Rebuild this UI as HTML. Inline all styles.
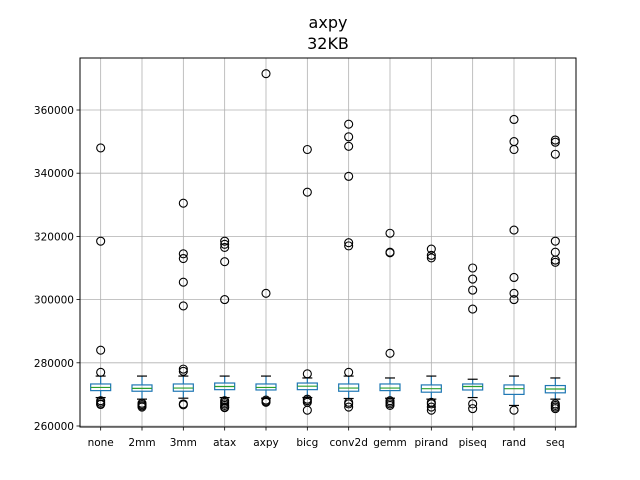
<!DOCTYPE html>
<html><head><meta charset="utf-8"><style>
body{margin:0;background:#fff;}
svg{display:block;font-family:"DejaVu Sans","Liberation Sans",sans-serif;}
</style></head><body>
<svg id="chart" width="640" height="480" viewBox="0 0 640 480">
<text x="328" y="28" text-anchor="middle" font-size="16">axpy</text>
<text x="328" y="49" text-anchor="middle" font-size="16">32KB</text>
<g id="grid"></g><g id="marks"></g><g id="axes"></g>
</svg>
<script>
const categories=["none","2mm","3mm","atax","axpy","bicg","conv2d","gemm","pirand","piseq","rand","seq"];
const q1=[271200,271000,271000,271500,271400,271500,271000,271200,270700,271400,270000,270500];
const medians=[272200,271900,272000,272500,272200,272600,272000,272000,271800,272500,271800,271700];
const q3=[273300,273000,273300,273600,273300,273600,273300,273300,273000,273300,273000,272800];
const whiskerLow=[269000,268500,268800,269000,268800,269000,268700,268800,268500,269000,266500,268500];
const whiskerHigh=[275800,275800,275800,275800,275800,275200,275800,275200,275800,274800,275800,275200];
const fliers=[
[348000,318500,284000,277000,268000,267500,267000,266800],
[267200,266800,266400,266000],
[330500,314500,313000,305500,298000,278000,277300,267000,266700],
[318500,317500,316500,312000,300000,268000,267500,267000,266500,266000,265800],
[371500,302000,268200,267800,267500],
[347500,334000,276500,268500,268000,267500,265000],
[355500,351500,348500,339000,318000,317000,277000,267500,267000,266000],
[321000,315000,314800,283000,268000,267500,267000,266500],
[316000,314000,313200,267500,267000,266000,265000],
[310000,306500,303000,297000,267000,265500],
[357000,350000,347500,322000,307000,302000,300000,265000],
[350500,349800,346000,318500,315000,312500,311800,267000,266500,266000,265500]];
const yTicks=[260000,280000,300000,320000,340000,360000];

const L=80,R=576,T=58,B=427;
const y=v=>426-(v-260000)*0.00316;
const x=i=>L+(i+0.5)*(R-L)/categories.length;
const NS="http://www.w3.org/2000/svg";
function mk(tag,attrs,parent){const e=document.createElementNS(NS,tag);for(const k in attrs)e.setAttribute(k,attrs[k]);parent.appendChild(e);return e;}
const grid=document.getElementById('grid'),marks=document.getElementById('marks'),axes=document.getElementById('axes');
yTicks.forEach(t=>{
  const g=mk('line',{x1:L,x2:R,y1:y(t),y2:y(t),stroke:'#b0b0b0','stroke-width':0.8},grid);
  
  
  const tk=mk('line',{x1:L-3.5,x2:L,y1:y(t),y2:y(t),stroke:'#000','stroke-width':0.8},axes);
  
  
  const lb=mk('text',{x:L-6,y:y(t)+4,'text-anchor':'end','font-size':10.5},axes);
  lb.textContent=t;
  
  
});
categories.forEach((c,i)=>{
  const cx=x(i);
  const g=mk('line',{x1:cx,x2:cx,y1:T,y2:B,stroke:'#b0b0b0','stroke-width':0.8},grid);
  
  
  const tk=mk('line',{x1:cx,x2:cx,y1:B,y2:B+3.5,stroke:'#000','stroke-width':0.8},axes);
  
  
  const lb=mk('text',{x:cx,y:B+19,'text-anchor':'middle','font-size':10.5},axes);
  lb.textContent=c;
  
  
  const grp=mk('g',{},marks);
  
  
  const hw=10,cw=5;
  mk('line',{x1:cx,x2:cx,y1:y(q3[i]),y2:y(whiskerHigh[i]),stroke:'#1f77b4','stroke-width':1.2},grp);
  mk('line',{x1:cx,x2:cx,y1:y(q1[i]),y2:y(whiskerLow[i]),stroke:'#1f77b4','stroke-width':1.2},grp);
  mk('line',{x1:cx-cw,x2:cx+cw,y1:y(whiskerHigh[i]),y2:y(whiskerHigh[i]),stroke:'#000','stroke-width':1.2},grp);
  mk('line',{x1:cx-cw,x2:cx+cw,y1:y(whiskerLow[i]),y2:y(whiskerLow[i]),stroke:'#000','stroke-width':1.2},grp);
  mk('rect',{x:cx-hw,y:y(q3[i]),width:2*hw,height:y(q1[i])-y(q3[i]),fill:'none',stroke:'#1f77b4','stroke-width':1.2},grp);
  mk('line',{x1:cx-hw,x2:cx+hw,y1:y(medians[i]),y2:y(medians[i]),stroke:'#2ca02c','stroke-width':1.2},grp);
  fliers[i].forEach(v=>{
    const f=mk('circle',{cx:cx,cy:y(v),r:4,fill:'none',stroke:'#000','stroke-width':1.1},marks);
    
    
  });
});
const fr=mk('rect',{x:L,y:T,width:R-L,height:B-T,fill:'none',stroke:'#000','stroke-width':1},axes);


</script>
</body></html>
